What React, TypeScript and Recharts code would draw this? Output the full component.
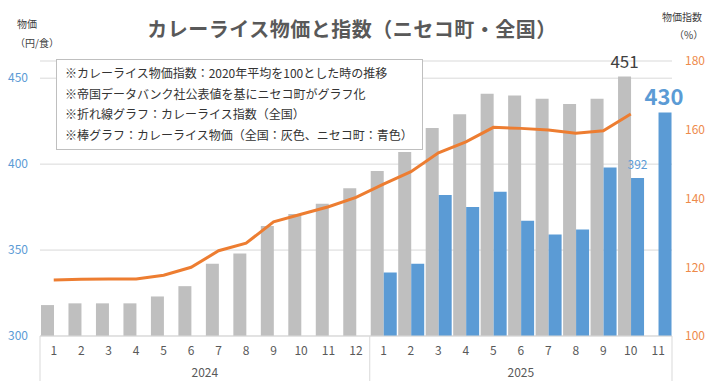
import React from 'react';
import { ComposedChart, Bar, Line, XAxis, YAxis, CartesianGrid, LabelList } from 'recharts';

const months = [1, 2, 3, 4, 5, 6, 7, 8, 9, 10, 11, 12, 1, 2, 3, 4, 5, 6, 7, 8, 9, 10, 11];
const years = ['2024', '2024', '2024', '2024', '2024', '2024', '2024', '2024', '2024', '2024', '2024', '2024',
  '2025', '2025', '2025', '2025', '2025', '2025', '2025', '2025', '2025', '2025', '2025'];
const nationalPrice = [318, 319, 319, 319, 323, 329, 342, 348, 364, 371, 377, 386,
  396, 407, 421, 429, 441, 440, 438, 435, 438, 451, null];
const nisekoPrice = [null, null, null, null, null, null, null, null, null, null, null, null,
  337, 342, 382, 375, 384, 367, 359, 362, 398, 392, 430];
const curryIndex = [116.3, 116.5, 116.6, 116.6, 117.7, 120.0, 124.8, 127.0, 133.2, 135.4, 137.6, 140.3,
  144.2, 147.8, 153.3, 156.5, 160.7, 160.4, 159.9, 159.0, 159.7, 164.6, null];
const leftTicks = [300, 350, 400, 450];
const rightTicks = [100, 120, 140, 160, 180];
const nationalLabelIdx = [21];
const nisekoLabelIdx = [21];
const nisekoBigLabelIdx = [22];
const notes = [
  '※カレーライス物価指数：2020年平均を100とした時の推移',
  '※帝国データバンク社公表値を基にニセコ町がグラフ化',
  '※折れ線グラフ：カレーライス指数（全国）',
  '※棒グラフ：カレーライス物価（全国：灰色、ニセコ町：青色）',
];
const title = 'カレーライス物価と指数（ニセコ町・全国）';

const data = months.map((m, i) => ({
  key: `${years[i]}-${m}`,
  national: nationalPrice[i],
  niseko: nisekoPrice[i],
  index: curryIndex[i],
  nLabel: nationalLabelIdx.includes(i) ? nationalPrice[i] : null,
  bLabel: nisekoLabelIdx.includes(i) ? nisekoPrice[i] : null,
  bBigLabel: nisekoBigLabelIdx.includes(i) ? nisekoPrice[i] : null,
}));

const W = 718;
const H = 390;
const LEFT_W = 40;
const RIGHT_W = 46;
const TOP = 61;
const XAXIS_H = 54;
const AXIS_Y = H - XAXIS_H;
const PLOT_W = W - LEFT_W - RIGHT_W;
const FONT = "'Noto Sans CJK JP', 'Noto Sans', sans-serif";

const XTick = (props: any) => {
  const { x, payload } = props;
  const i = payload?.index ?? props.index;
  const n = months.length;
  const band = PLOT_W / n;
  const els: any[] = [
    <text key="m" x={x} y={AXIS_Y + 19} textAnchor="middle" fontSize={12} fill="#595959" fontFamily={FONT}>
      {months[i]}
    </text>,
  ];
  if (i === 0 || years[i] !== years[i - 1]) {
    const count = years.filter((y) => y === years[i]).length;
    const left = x - band / 2;
    els.push(<line key="s" x1={left} x2={left} y1={AXIS_Y} y2={AXIS_Y + 45} stroke="#D9D9D9" />);
    els.push(
      <text key="y" x={left + (count * band) / 2} y={AXIS_Y + 41} textAnchor="middle" fontSize={12} fill="#595959" fontFamily={FONT}>
        {years[i]}
      </text>
    );
  }
  if (i === n - 1) {
    els.push(<line key="e" x1={x + band / 2} x2={x + band / 2} y1={AXIS_Y} y2={AXIS_Y + 45} stroke="#D9D9D9" />);
  }
  return <g>{els}</g>;
};

const NationalLabel = (props: any) => {
  const { x, y, width, value } = props;
  if (value == null) return null;
  return (
    <text x={x + width / 2} y={y - 8} textAnchor="middle" fontSize={17} fill="#404040" fontFamily={FONT}>
      {value}
    </text>
  );
};

const NisekoLabel = (props: any) => {
  const { x, y, width, value } = props;
  if (value == null) return null;
  return (
    <text x={x + width / 2} y={y - 9} textAnchor="middle" fontSize={12} fill="#5B9BD5" fontFamily={FONT}>
      {value}
    </text>
  );
};

const NisekoBigLabel = (props: any) => {
  const { x, y, width, value } = props;
  if (value == null) return null;
  return (
    <text x={x + width / 2 - 1} y={y - 8} textAnchor="middle" fontSize={22} fontWeight="bold" fill="#5B9BD5" fontFamily={FONT}>
      {value}
    </text>
  );
};

export default function App() {
  return (
    <div style={{ position: 'absolute', left: 0, top: 0, width: W, height: H, background: '#fff', fontFamily: FONT }}>
      <ComposedChart
        width={W}
        height={H}
        data={data}
        margin={{ top: TOP, right: 0, bottom: 0, left: 0 }}
        barCategoryGap={1}
        barGap={0}
      >
        <CartesianGrid vertical={false} stroke="#D9D9D9" yAxisId="left" />
        <XAxis
          dataKey="key"
          height={XAXIS_H}
          interval={0}
          tickLine={false}
          axisLine={{ stroke: '#D9D9D9' }}
          tick={<XTick />}
        />
        <YAxis
          yAxisId="left"
          orientation="left"
          width={LEFT_W}
          domain={[300, 460]}
          ticks={leftTicks}
          axisLine={false}
          tickLine={false}
          tickMargin={6}
          tick={{ fontSize: 12, fill: '#5B9BD5', fontFamily: FONT }}
          allowDataOverflow
        />
        <YAxis
          yAxisId="right"
          orientation="right"
          width={RIGHT_W}
          domain={[100, 180]}
          ticks={rightTicks}
          axisLine={false}
          tickLine={false}
          tickMargin={7}
          tick={{ fontSize: 12, fill: '#EE8A4A', fontFamily: FONT, textAnchor: 'start' }}
        />
        <Bar yAxisId="left" dataKey="national" fill="#BFBFBF" isAnimationActive={false}>
          <LabelList dataKey="nLabel" content={<NationalLabel />} />
        </Bar>
        <Bar yAxisId="left" dataKey="niseko" fill="#5B9BD5" isAnimationActive={false}>
          <LabelList dataKey="bLabel" content={<NisekoLabel />} />
          <LabelList dataKey="bBigLabel" content={<NisekoBigLabel />} />
        </Bar>
        <Line
          yAxisId="right"
          dataKey="index"
          type="linear"
          stroke="#ED7D31"
          strokeWidth={3}
          dot={false}
          activeDot={false}
          isAnimationActive={false}
        />
      </ComposedChart>

      <div style={{ position: 'absolute', left: 0, width: 704, top: 14, textAlign: 'center', fontSize: 20, fontWeight: 'bold', color: '#595959', letterSpacing: 0.5, lineHeight: '30px' }}>
        {title}
      </div>
      <div style={{ position: 'absolute', left: 17, top: 16, fontSize: 10, color: '#404040', lineHeight: '16px' }}>物価</div>
      <div style={{ position: 'absolute', left: 15, top: 35, fontSize: 10, color: '#404040', lineHeight: '16px' }}>（円/食）</div>
      <div style={{ position: 'absolute', left: 662, top: 9, fontSize: 10, color: '#404040', lineHeight: '16px' }}>物価指数</div>
      <div style={{ position: 'absolute', left: 674, top: 27, fontSize: 10, color: '#404040', lineHeight: '16px' }}>（%）</div>

      <div
        style={{
          position: 'absolute',
          left: 56,
          top: 59,
          width: 367,
          height: 91,
          boxSizing: 'border-box',
          border: '1px solid #BFBFBF',
          background: '#fff',
          padding: '3px 0 0 8px',
        }}
      >
        {notes.map((t) => (
          <div key={t} style={{ fontSize: 12, lineHeight: '20.5px', color: '#333', whiteSpace: 'nowrap' }}>
            {t}
          </div>
        ))}
      </div>
    </div>
  );
}
